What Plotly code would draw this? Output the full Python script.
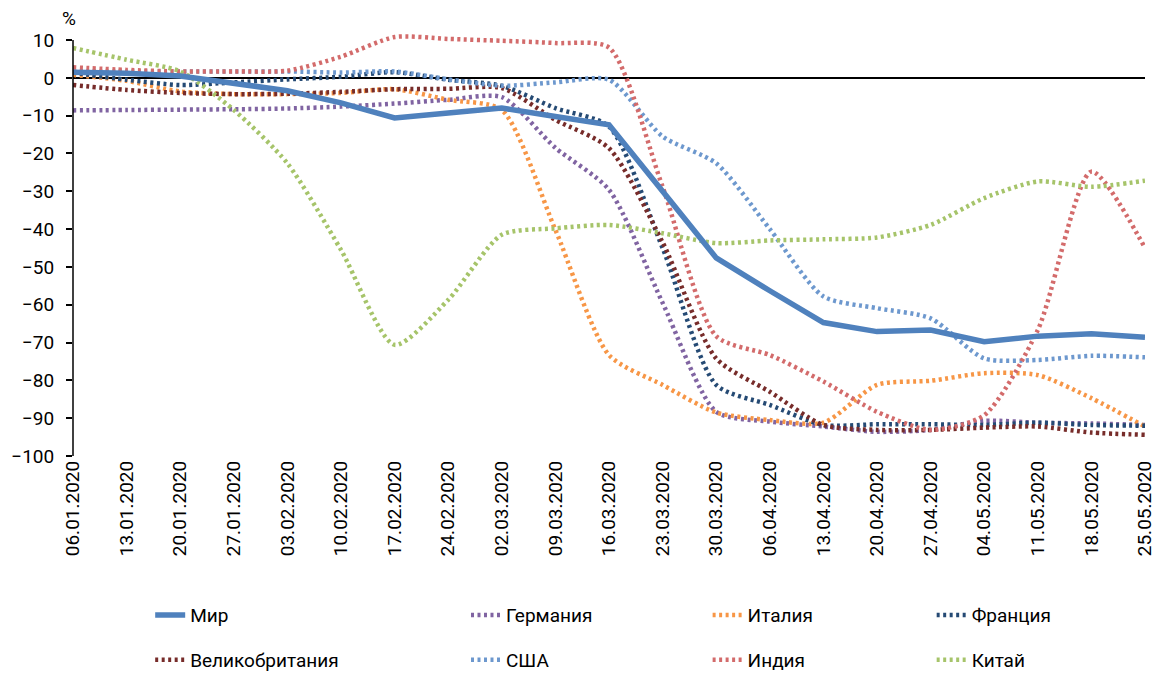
import plotly.graph_objects as go

# ─────────────────────────────────────────────────────────────────────────────
# DATA
# ─────────────────────────────────────────────────────────────────────────────

dates = [
    "06.01.2020", "13.01.2020", "20.01.2020", "27.01.2020", "03.02.2020",
    "10.02.2020", "17.02.2020", "24.02.2020", "02.03.2020", "09.03.2020",
    "16.03.2020", "23.03.2020", "30.03.2020", "06.04.2020", "13.04.2020",
    "20.04.2020", "27.04.2020", "04.05.2020", "11.05.2020", "18.05.2020",
    "25.05.2020",
]

mir = [1.5, 1.2, 0.5, -1.3, -3.4, -6.6, -10.6, -9.3, -8.0, -10.2, -12.4,
       -30.0, -47.6, -56.3, -64.7, -67.1, -66.7, -69.8, -68.3, -67.7, -68.6]
germany = [-8.6, -8.5, -8.4, -8.3, -8.1, -7.6, -6.8, -5.8, -5.1, -18.5, -29.6,
           -59.5, -88.3, -90.9, -92.2, -93.6, -93.1, -90.7, -91.2, -91.4, -91.8]
italy = [0.8, -0.8, -3.6, -4.3, -4.3, -4.0, -3.0, -5.8, -8.5, -40.2, -73.3,
         -81.2, -88.5, -90.5, -91.2, -81.2, -80.1, -78.1, -78.6, -84.7, -92.2]
france = [1.4, -0.5, -1.9, -1.2, -0.4, 0.3, 1.5, -0.5, -2.1, -8.0, -12.9,
          -45.0, -81.2, -86.5, -91.8, -91.6, -91.6, -91.8, -91.2, -91.8, -92.0]
uk = [-1.9, -3.2, -4.0, -4.3, -4.2, -3.7, -3.0, -2.9, -2.7, -11.1, -18.6,
      -43.5, -74.2, -83.0, -91.8, -93.1, -93.1, -92.5, -92.2, -93.8, -94.4]
usa = [1.7, 1.7, 1.7, 1.7, 1.7, 1.4, 1.7, -0.4, -2.1, -1.2, -0.5,
       -15.5, -22.6, -40.0, -57.8, -60.9, -63.6, -74.2, -74.6, -73.5, -73.9]
india = [2.8, 2.1, 1.7, 1.7, 1.9, 5.6, 10.8, 10.3, 9.8, 9.2, 8.0,
         -28.8, -68.3, -73.3, -80.3, -88.3, -93.1, -89.2, -66.7, -24.8, -45.0]
china = [7.9, 4.8, 1.7, -8.5, -22.6, -45.5, -70.6, -58.7, -41.5, -39.8, -38.9,
         -41.1, -43.7, -43.0, -42.7, -42.2, -38.9, -31.8, -27.4, -28.8, -27.2]

FONT = "Liberation Sans Narrow, Arial Narrow, Roboto, sans-serif"

# name, values, colour, width, dotted, legend x, legend y
SERIES = [
    ("Мир",            mir,     "#4F81BD", 5.5, False, 0.072,  -0.377),
    ("Германия",       germany, "#8064A2", 4.5, True,  0.3666, -0.377),
    ("Италия",         italy,   "#F79646", 4.5, True,  0.592,  -0.377),
    ("Франция",        france,  "#254A74", 4.5, True,  0.801,  -0.377),
    ("Великобритания", uk,      "#772C2A", 4.5, True,  0.072,  -0.483),
    ("США",            usa,     "#6D98CE", 4.5, True,  0.3666, -0.483),
    ("Индия",          india,   "#D36B6B", 4.5, True,  0.592,  -0.483),
    ("Китай",          china,   "#A6C46A", 4.5, True,  0.801,  -0.483),
]

fig = go.Figure()
legends = {}
for k, (name, vals, color, w, dotted, lx, ly) in enumerate(SERIES):
    lname = "legend" if k == 0 else f"legend{k + 1}"
    line = dict(color=color, width=w)
    if dotted:
        line.update(dash="3px,3.5px", shape="spline", smoothing=0.7)
    fig.add_trace(go.Scatter(
        x=dates, y=vals, mode="lines", name=name, line=line,
        legend=lname,
    ))
    legends[lname] = dict(
        x=lx, y=ly, xanchor="left", yanchor="middle",
        font=dict(family=FONT, size=19, color="black"),
        bgcolor="rgba(0,0,0,0)",
    )

# draw Mir on top
fig.data = fig.data[1:] + fig.data[:1]

fig.update_layout(
    width=1154, height=673,
    plot_bgcolor="white", paper_bgcolor="white",
    margin=dict(l=73, r=9, t=34, b=217, autoexpand=False),
    font=dict(family=FONT, size=19, color="black"),
    showlegend=True,
    **legends,
)
fig.update_xaxes(
    type="category", range=[0, 20], showgrid=False, showline=False,
    ticks="", tickangle=-90, zeroline=False,
    tickfont=dict(family=FONT, size=19, color="black"),
)
fig.update_yaxes(
    range=[-100, 11.6], tickvals=list(range(-100, 11, 10)), showgrid=False,
    showline=False,
    ticks="outside", ticklen=6, tickcolor="black", tickwidth=1.5,
    zeroline=True, zerolinecolor="black", zerolinewidth=1.5,
    tickformat="d", ticklabelstandoff=8,
    tickfont=dict(family=FONT, size=19, color="black"),
)
# y axis line only up to the top tick (10)
fig.add_shape(
    type="line", xref="paper", yref="y", x0=0, x1=0, y0=-100, y1=10,
    line=dict(color="black", width=1.5), layer="above",
)
fig.add_annotation(
    text="%", xref="paper", yref="paper", x=-0.004, y=(456 - 18) / 422,
    xanchor="center", yanchor="middle", showarrow=False,
    font=dict(family=FONT, size=19, color="black"),
)

fig.write_html(
    "out.html",
    config={"displayModeBar": False},
    post_script="document.body.style.margin='0';",
)
